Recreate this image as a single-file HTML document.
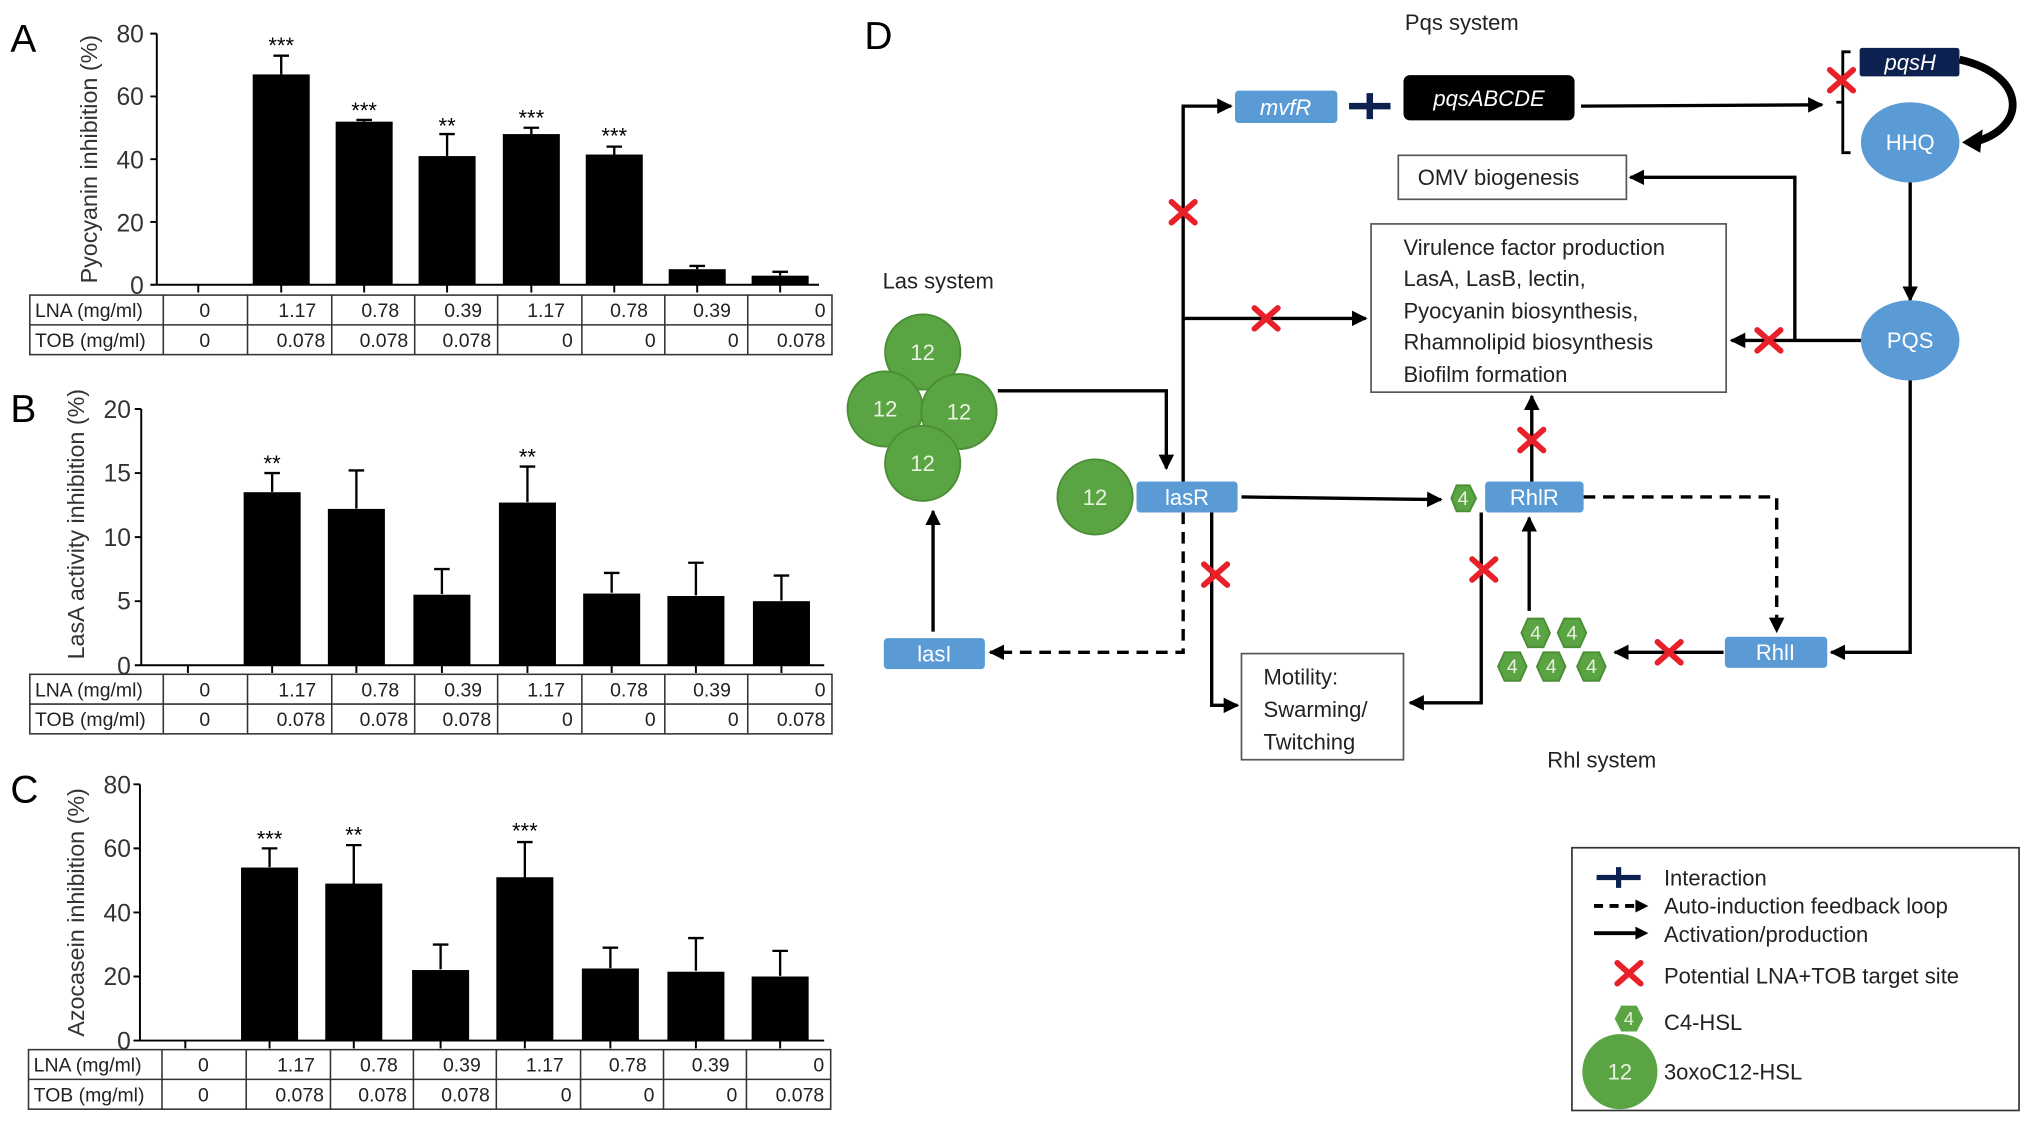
<!DOCTYPE html>
<html><head><meta charset="utf-8"><style>
html,body{margin:0;padding:0;background:#fff;}
svg{display:block;}
text{font-family:"Liberation Sans",sans-serif;}
</style></head><body>
<svg width="2032" height="1126" viewBox="0 0 1568 870" preserveAspectRatio="none" xmlns="http://www.w3.org/2000/svg">
<defs>
<marker id="ah" viewBox="0 0 10 10" refX="9" refY="5" markerWidth="4.6" markerHeight="4.6" orient="auto-start-reverse"><path d="M0,0 L10,5 L0,10 z" fill="#000"/></marker>
<g id="rx"><path d="M-9,-8 L9,8 M9,-8 L-9,8" stroke="#e8202a" stroke-width="4.5" stroke-linecap="round"/></g>
</defs>

<text x="8" y="40" font-size="30">A</text>
<text x="8" y="326" font-size="30">B</text>
<text x="8" y="620" font-size="30">C</text>
<text x="667" y="38" font-size="30">D</text>

<!-- ===== Panel A ===== -->
<g stroke="#000" stroke-width="1.5" fill="none">
<path d="M121,26 V220 M121,26 h-5 M121,74.5 h-5 M121,123 h-5 M121,171.5 h-5 M121,220 h-5 M121,220 H632"/>
<path d="M153,220v6 M217,220v6 M281,220v6 M345,220v6 M410,220v6 M474,220v6 M538,220v6 M602,220v6"/>
</g>
<g font-size="19" text-anchor="end" fill="#333"><text x="111" y="33">80</text><text x="111" y="81">60</text><text x="111" y="130">40</text><text x="111" y="179">20</text><text x="111" y="227">0</text></g>
<text transform="translate(75,123) rotate(-90)" font-size="18" text-anchor="middle" fill="#333">Pyocyanin inhibition (%)</text>
<g fill="#000">
<rect x="195" y="57.5" width="44" height="162.5"/><rect x="259" y="94" width="44" height="126"/><rect x="323" y="120.6" width="44" height="99.4"/><rect x="388" y="103.6" width="44" height="116.4"/><rect x="452" y="119.4" width="44" height="100.6"/><rect x="516" y="208" width="44" height="12"/><rect x="580" y="213" width="44" height="7"/>
</g>
<g stroke="#000" stroke-width="1.8">
<path d="M217,57.5V43 M211,43h12 M281,94V92.7 M275,92.7h12 M345,120.6V103.6 M339,103.6h12 M410,103.6V98.7 M404,98.7h12 M474,119.4V113.3 M468,113.3h12 M538,208V205.5 M532,205.5h12 M602,213V210 M596,210h12"/>
</g>
<g font-size="17" text-anchor="middle"><text x="217" y="41">***</text><text x="281" y="91">***</text><text x="345" y="103">**</text><text x="410" y="97">***</text><text x="474" y="111">***</text></g>

<!-- ===== Panel B ===== -->
<g stroke="#000" stroke-width="1.5" fill="none">
<path d="M109,316 V514 M109,316 h-5 M109,365.5 h-5 M109,415 h-5 M109,464.5 h-5 M109,514 h-5 M109,514 H636"/>
<path d="M145,514v6 M210,514v6 M275,514v6 M341,514v6 M407,514v6 M472,514v6 M537,514v6 M603,514v6"/>
</g>
<g font-size="19" text-anchor="end" fill="#333"><text x="101" y="323">20</text><text x="101" y="372">15</text><text x="101" y="422">10</text><text x="101" y="471">5</text><text x="101" y="521">0</text></g>
<text transform="translate(65,405) rotate(-90)" font-size="18" text-anchor="middle" fill="#333">LasA activity inhibition (%)</text>
<g fill="#000">
<rect x="188" y="380.3" width="44" height="133.7"/><rect x="253" y="393.2" width="44" height="120.8"/><rect x="319" y="459.5" width="44" height="54.5"/><rect x="385" y="388.3" width="44" height="125.7"/><rect x="450" y="458.6" width="44" height="55.4"/><rect x="515" y="460.5" width="44" height="53.5"/><rect x="581" y="464.5" width="44" height="49.5"/>
</g>
<g stroke="#000" stroke-width="1.8">
<path d="M210,380V365.5 M204,365.5h12 M275,393V363.5 M269,363.5h12 M341,459V439.7 M335,439.7h12 M407,388V360.5 M401,360.5h12 M472,458V442.7 M466,442.7h12 M537,460V434.8 M531,434.8h12 M603,464V444.7 M597,444.7h12"/>
</g>
<g font-size="17" text-anchor="middle"><text x="210" y="364">**</text><text x="407" y="359">**</text></g>

<!-- ===== Panel C ===== -->
<g stroke="#000" stroke-width="1.5" fill="none">
<path d="M108,606 V804 M108,606 h-5 M108,655.5 h-5 M108,705 h-5 M108,754.5 h-5 M108,804 h-5 M108,804 H636"/>
<path d="M143,804v6 M208,804v6 M273,804v6 M340,804v6 M405,804v6 M471,804v6 M537,804v6 M602,804v6"/>
</g>
<g font-size="19" text-anchor="end" fill="#333"><text x="101" y="613">80</text><text x="101" y="662">60</text><text x="101" y="712">40</text><text x="101" y="761">20</text><text x="101" y="811">0</text></g>
<text transform="translate(65,705) rotate(-90)" font-size="18" text-anchor="middle" fill="#333">Azocasein inhibition (%)</text>
<g fill="#000">
<rect x="186" y="670.3" width="44" height="133.7"/><rect x="251" y="682.7" width="44" height="121.3"/><rect x="318" y="749.5" width="44" height="54.5"/><rect x="383" y="677.8" width="44" height="126.2"/><rect x="449" y="748.3" width="44" height="55.7"/><rect x="515" y="750.8" width="44" height="53.2"/><rect x="580" y="754.5" width="44" height="49.5"/>
</g>
<g stroke="#000" stroke-width="1.8">
<path d="M208,670V655.5 M202,655.5h12 M273,683V653 M267,653h12 M340,749V729.8 M334,729.8h12 M405,678V650.6 M399,650.6h12 M471,748V732.2 M465,732.2h12 M537,750V724.8 M531,724.8h12 M602,754V734.7 M596,734.7h12"/>
</g>
<g font-size="17" text-anchor="middle"><text x="208" y="654">***</text><text x="273" y="651">**</text><text x="405" y="648">***</text></g>

<!-- ===== Tables ===== -->
<g id="tblA">
<g stroke="#333" stroke-width="1.2" fill="none">
<rect x="23" y="228" width="619" height="46"/><path d="M23,251H642 M126,228v46 M191,228v46 M256,228v46 M320,228v46 M384,228v46 M449,228v46 M513,228v46 M577,228v46"/>
</g>
<g font-size="15" fill="#222">
<text x="27" y="245">LNA (mg/ml)</text><text x="27" y="268">TOB (mg/ml)</text>
<text x="158" y="245" text-anchor="middle">0</text><text x="158" y="268" text-anchor="middle">0</text>
<g text-anchor="end"><text x="244" y="245">1.17</text><text x="308" y="245">0.78</text><text x="372" y="245">0.39</text><text x="436" y="245">1.17</text><text x="500" y="245">0.78</text><text x="564" y="245">0.39</text><text x="637" y="245">0</text>
<text x="251" y="268">0.078</text><text x="315" y="268">0.078</text><text x="379" y="268">0.078</text><text x="442" y="268">0</text><text x="506" y="268">0</text><text x="570" y="268">0</text><text x="637" y="268">0.078</text></g>
</g>
</g>
<use href="#tblA" transform="translate(0,293)"/>
<use href="#tblA" transform="translate(-1,583)"/>

<!-- ===== Panel D ===== -->
<g font-size="17" fill="#222">
<text x="1128" y="23" text-anchor="middle">Pqs system</text>
<text x="724" y="223" text-anchor="middle">Las system</text>
<text x="1236" y="593" text-anchor="middle">Rhl system</text>
</g>

<g stroke="#000" stroke-width="2.6" fill="none">
<path d="M770,302 H900 V362" marker-end="url(#ah)"/>
<path d="M958,384 L1112,386" marker-end="url(#ah)"/>
<path d="M913,372 V82 H950" marker-end="url(#ah)"/>
<path d="M913,246 H1054" marker-end="url(#ah)"/>
<path d="M720,488 V395" marker-end="url(#ah)"/>
<path d="M935,396 V545 H955" marker-end="url(#ah)"/>
<path d="M1143,396 V543 H1088" marker-end="url(#ah)"/>
<path d="M1180,472 V400" marker-end="url(#ah)"/>
<path d="M1182,372 V306" marker-end="url(#ah)"/>
<path d="M1330,504 H1246" marker-end="url(#ah)"/>
<path d="M1474,292 V504 H1413" marker-end="url(#ah)"/>
<path d="M1436,263 H1336" marker-end="url(#ah)"/>
<path d="M1385,263 V137 H1258" marker-end="url(#ah)"/>
<path d="M1474,140 V232" marker-end="url(#ah)"/>
<path d="M1220,82 L1406,81" marker-end="url(#ah)"/>
</g>
<g stroke="#000" stroke-width="2.6" fill="none" stroke-dasharray="9,6">
<path d="M913,396 V504 H764" marker-end="url(#ah)"/>
<path d="M1222,384 H1371 V488" marker-end="url(#ah)"/>
</g>
<path d="M1428,40 H1422 V118 H1428 M1422,79 H1417" stroke="#000" stroke-width="2.2" fill="none"/>
<path d="M1512,46 C1565,58 1565,100 1522,110" stroke="#000" stroke-width="6" fill="none"/>
<path d="M1514,110 L1530,100 L1528,118 z" fill="#000"/>

<g fill="#5b9bd5">
<rect x="953" y="70" width="79" height="25" rx="3"/>
<rect x="877" y="372" width="78" height="24" rx="3"/>
<rect x="1146" y="372" width="76" height="24" rx="3"/>
<rect x="682" y="493" width="78" height="24" rx="3"/>
<rect x="1331" y="492" width="79" height="24" rx="3"/>
<ellipse cx="1474" cy="110" rx="38" ry="31"/>
<ellipse cx="1474" cy="263" rx="38" ry="31"/>
</g>
<rect x="1083" y="58" width="132" height="35" rx="5" fill="#000"/>
<rect x="1435" y="37" width="77" height="22" rx="2" fill="#0d2150"/>
<g fill="#fff" font-size="17" text-anchor="middle">
<text x="992" y="89" font-style="italic">mvfR</text>
<text x="1149" y="82" font-style="italic">pqsABCDE</text>
<text x="1474" y="54" font-style="italic">pqsH</text>
<text x="916" y="390">lasR</text>
<text x="1184" y="390">RhlR</text>
<text x="721" y="511">lasI</text>
<text x="1370" y="510">RhlI</text>
<text x="1474" y="116">HHQ</text>
<text x="1474" y="269">PQS</text>
</g>
<path d="M1041,82 H1073 M1057,72 V92" stroke="#0d2150" stroke-width="5"/>

<g fill="#fff" stroke="#555" stroke-width="1.3">
<rect x="1079" y="120" width="176" height="34"/>
<rect x="1058" y="173" width="274" height="130"/>
<rect x="958" y="505" width="125" height="82"/>
</g>
<g font-size="17" fill="#222">
<text x="1094" y="143">OMV biogenesis</text>
<text x="1083" y="197">Virulence factor production</text>
<text x="1083" y="221">LasA, LasB, lectin,</text>
<text x="1083" y="246">Pyocyanin biosynthesis,</text>
<text x="1083" y="270">Rhamnolipid biosynthesis</text>
<text x="1083" y="295">Biofilm formation</text>
<text x="975" y="529">Motility:</text>
<text x="975" y="554">Swarming/</text>
<text x="975" y="579">Twitching</text>
</g>

<g fill="#5ba443" stroke="#4a8f35" stroke-width="1.5">
<circle cx="712" cy="272" r="29"/><circle cx="683" cy="316" r="29"/><circle cx="740" cy="318" r="29"/><circle cx="712" cy="358" r="29"/>
<circle cx="845" cy="384" r="29"/>
<polygon points="1120,385 1124,375 1134,375 1139,385 1134,395 1124,395"/>
<polygon points="1174,489 1179,478 1191,478 1196,489 1191,500 1179,500"/>
<polygon points="1202,489 1207,478 1219,478 1224,489 1219,500 1207,500"/>
<polygon points="1156,515 1161,504 1173,504 1178,515 1173,526 1161,526"/>
<polygon points="1186,515 1191,504 1203,504 1208,515 1203,526 1191,526"/>
<polygon points="1217,515 1222,504 1234,504 1239,515 1234,526 1222,526"/>
</g>
<g fill="#e8f2e0" font-size="17" text-anchor="middle">
<text x="712" y="278">12</text><text x="683" y="322">12</text><text x="740" y="324">12</text><text x="712" y="364">12</text><text x="845" y="390">12</text>
</g>
<g fill="#e8f2e0" font-size="15" text-anchor="middle">
<text x="1129" y="390">4</text><text x="1185" y="494">4</text><text x="1213" y="494">4</text><text x="1167" y="520">4</text><text x="1197" y="520">4</text><text x="1228" y="520">4</text>
</g>

<use href="#rx" transform="translate(913,164)"/>
<use href="#rx" transform="translate(977,246)"/>
<use href="#rx" transform="translate(938,444)"/>
<use href="#rx" transform="translate(1145,440)"/>
<use href="#rx" transform="translate(1182,340)"/>
<use href="#rx" transform="translate(1288,504)"/>
<use href="#rx" transform="translate(1365,263)"/>
<use href="#rx" transform="translate(1421,62)"/>

<rect x="1213" y="655" width="345" height="203" fill="#fff" stroke="#333" stroke-width="1.3"/>
<path d="M1232,678 H1266 M1249,670 V686" stroke="#0d2150" stroke-width="4"/>
<path d="M1230,700 H1262" stroke="#000" stroke-width="3" stroke-dasharray="7,5"/>
<path d="M1262,695 L1272,700 L1262,705 z" fill="#000"/>
<path d="M1230,721 H1262" stroke="#000" stroke-width="3"/>
<path d="M1262,716 L1272,721 L1262,726 z" fill="#000"/>
<use href="#rx" transform="translate(1257,752)"/>
<polygon points="1246,787 1251,777 1263,777 1268,787 1263,797 1251,797" fill="#5ba443"/>
<text x="1257" y="792" font-size="14" fill="#e8f2e0" text-anchor="middle">4</text>
<circle cx="1250" cy="828" r="29" fill="#5ba443"/>
<text x="1250" y="834" font-size="17" fill="#e8f2e0" text-anchor="middle">12</text>
<g font-size="17" fill="#222">
<text x="1284" y="684">Interaction</text>
<text x="1284" y="706">Auto-induction feedback loop</text>
<text x="1284" y="728">Activation/production</text>
<text x="1284" y="760">Potential LNA+TOB target site</text>
<text x="1284" y="796">C4-HSL</text>
<text x="1284" y="834">3oxoC12-HSL</text>
</g>
</svg>
</body></html>
